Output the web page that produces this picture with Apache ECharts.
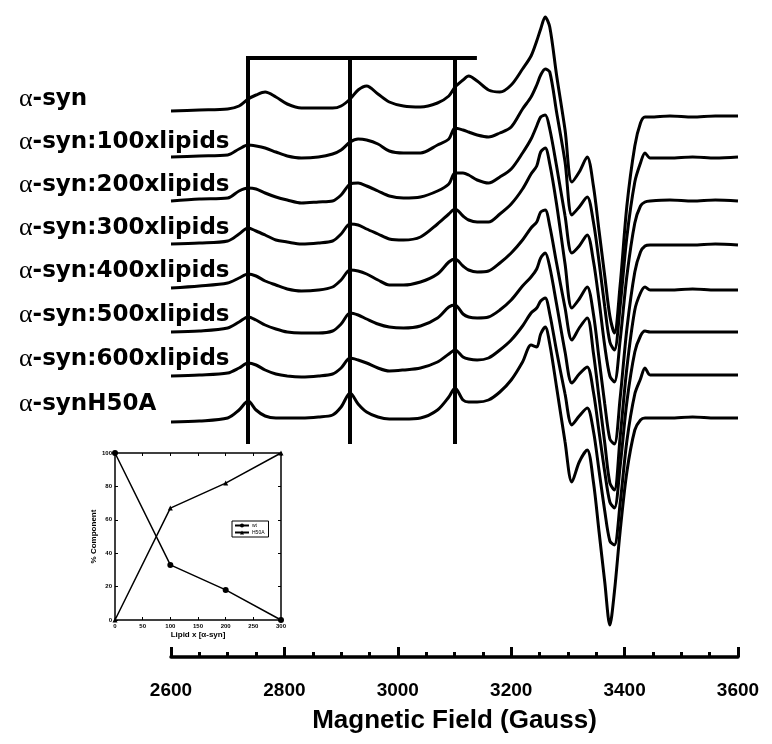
<!DOCTYPE html>
<html><head><meta charset="utf-8">
<script src="https://cdn.jsdelivr.net/npm/echarts@6/dist/echarts.min.js"></script>
<style>html,body{margin:0;padding:0;background:#fff}#c{width:772px;height:744px}</style>
</head><body><div id="c"></div>
<script>
// Magnetic field sampling points (Gauss)
const fieldGrid = [2600,2650,2700,2720,2736,2750,2766,2785,2805,2830,2860,2885,2900,2916,2930,2945,2965,2985,3010,3040,3070,3090,3101,3115,3125,3140,3160,3180,3200,3220,3235,3245,3252,3260,3268,3280,3295,3307,3320,3334,3345,3355,3365,3374,3382,3392,3404,3418,3428,3436,3445,3480,3520,3560,3600];
// Spectra (arbitrary units, relative to each trace's own baseline)
const specSyn    = [0,1,2,5,12,16,19,14,7,3, 3,3,5,12,21,25,17,9,5,4, 8,15,24,31,35,30,21,19,26,42, 55,70,82,94,84,36,-19,-71,-61,-46, -75,-120,-165,-205,-222,-175,-95,-35,-12,-6, -6,-5,-6,-5,-5];
const spec100    = [0,1,2,8,12,11,9,5,1,-1, 0,3,7,15,18,17,13,6,4,4, 12,18,29,27,25,22,20,24,30,48, 60,72,82,88,85,45,-5,-58,-50,-40, -65,-105,-150,-185,-193,-150,-80,-25,-6,4, -1,-1,0,-1,0];
const spec200    = [0,2,3,10,13,12,8,4,1,-2, -1,0,6,17,18,15,10,5,3,4, 10,17,28,28,26,21,18,24,32,48, 62,75,84,86,72,35,-15,-52,-45,-34, -60,-100,-145,-175,-181,-140,-75,-22,-5,-1, 0,1,0,1,0];
const spec300    = [0,1,3,10,16,13,9,4,2,0, 1,3,10,20,19,15,10,5,4,7, 20,30,35,28,24,22,22,30,40,55, 70,78,92,96,80,40,-20,-64,-55,-43, -70,-115,-160,-195,-200,-155,-85,-28,-8,-2, -1,-1,-1,0,-1];
const spec400    = [0,2,5,10,14,12,7,3,-1,-3, -2,1,8,18,17,14,8,3,3,6, 14,26,29,22,18,16,17,25,35,48, 60,66,76,78,62,25,-20,-52,-40,-30, -65,-110,-155,-195,-202,-150,-80,-22,-5,1, -2,-2,-1,-2,-2];
const spec500    = [0,1,4,10,15,12,7,3,0,-1, -1,1,8,19,17,13,8,5,4,6, 14,25,27,18,15,14,15,22,32,46, 55,63,74,79,65,28,-20,-51,-42,-35, -60,-100,-140,-170,-176,-135,-70,-20,-4,1, 0,0,0,0,0];
const spec600    = [0,1,3,8,13,11,6,2,0,-1, 0,2,8,18,16,13,8,5,6,8, 14,22,26,19,17,16,18,26,36,50, 63,68,75,78,62,25,-18,-49,-40,-32, -55,-95,-135,-165,-169,-128,-65,-18,-3,8, 1,1,1,1,1];
const specH50A   = [0,1,4,12,21,12,6,4,4,4, 5,7,15,29,18,10,5,3,3,4, 12,25,34,22,20,20,22,30,42,60, 77,75,88,95,78,35,-20,-60,-40,-28, -60,-110,-160,-203,-170,-110,-50,-8,2,4, 4,4,5,4,4];
const spectra = [specSyn, spec100, spec200, spec300, spec400, spec500, spec600, specH50A];
// vertical stacking offsets of each trace
const baselineOffsets = [546, 500, 456, 413, 369, 325, 281, 235];
const sampleLabels = ['α-syn','α-syn:100xlipids','α-syn:200xlipids','α-syn:300xlipids','α-syn:400xlipids','α-syn:500xlipids','α-syn:600xlipids','α-synH50A'];
// stick diagram marking hyperfine lines
const stickFields = [2736, 2916, 3101];
const stickRange = [215, 599];
const barEndField = 3136;
// inset data
const lipidRatio = [0, 100, 200, 300];
const wtPercent = [100, 33, 18, 0];
const h50aPercent = [0, 67, 82, 100];

const labelY = [99, 142, 185, 228, 271, 315, 359, 404];

const chart = echarts.init(document.getElementById('c'), null, {renderer: 'canvas'});

const specSeries = spectra.map((s, i) => ({
  type: 'line', xAxisIndex: 0, yAxisIndex: 0, silent: true,
  data: fieldGrid.map((f, j) => [f, s[j] + baselineOffsets[i]]),
  showSymbol: false, smooth: 0.3,
  lineStyle: {color: '#000', width: 3}
}));
specSeries[0].markLine = {
  symbol: 'none', silent: true, animation: false,
  label: {show: false},
  lineStyle: {color: '#000', width: 4, type: 'solid', cap: 'square'},
  data: stickFields.map(f => [{coord: [f, stickRange[0]]}, {coord: [f, stickRange[1]]}])
    .concat([[{coord: [stickFields[0], stickRange[1]]}, {coord: [barEndField, stickRange[1]]}]])
};

const insetTxt = {fontFamily: 'Liberation Sans', fontWeight: 'bold', color: '#000'};

const option = {
  animation: false,
  backgroundColor: '#fff',
  grid: [
    {left: 171, right: 34, top: 7, bottom: 87},
    {left: 115, top: 453, width: 166, height: 167}
  ],
  xAxis: [
    {gridIndex: 0, type: 'value', min: 2600, max: 3600, interval: 200,
     axisLine: {onZero: false, lineStyle: {color: '#000', width: 3.5}},
     axisTick: {inside: true, length: 10, lineStyle: {color: '#000', width: 3}},
     minorTick: {show: true, splitNumber: 4, length: 5, lineStyle: {color: '#000', width: 3}},
     splitLine: {show: false}, minorSplitLine: {show: false},
     axisLabel: {fontSize: 19, fontWeight: 'bold', fontFamily: 'Liberation Sans', color: '#000', margin: 24, showMinLabel: true, showMaxLabel: true, formatter: v => String(v)},
     name: 'Magnetic Field (Gauss)', nameLocation: 'middle', nameGap: 51,
     nameTextStyle: {fontSize: 26, fontWeight: 'bold', fontFamily: 'Liberation Sans', color: '#000'}},
    {gridIndex: 1, type: 'value', min: 0, max: 300, interval: 50, position: 'bottom',
     axisLine: {onZero: false, lineStyle: {color: '#000', width: 1.5}},
     axisTick: {inside: true, length: 3, lineStyle: {color: '#000', width: 1}},
     splitLine: {show: false},
     axisLabel: Object.assign({fontSize: 6, margin: 3, showMinLabel: true, showMaxLabel: true}, insetTxt),
     name: 'Lipid x [α-syn]', nameLocation: 'middle', nameGap: 11,
     nameTextStyle: Object.assign({fontSize: 8}, insetTxt)},
    {gridIndex: 1, type: 'value', min: 0, max: 300, interval: 50, position: 'top',
     axisLine: {onZero: false, lineStyle: {color: '#000', width: 1.5}},
     axisTick: {inside: true, length: 3, lineStyle: {color: '#000', width: 1}},
     splitLine: {show: false}, axisLabel: {show: false}}
  ],
  yAxis: [
    {gridIndex: 0, type: 'value', min: 0, max: 650, show: false},
    {gridIndex: 1, type: 'value', min: 0, max: 100, interval: 20, position: 'left',
     axisLine: {show: true, onZero: false, lineStyle: {color: '#000', width: 1.5}},
     axisTick: {show: true, inside: true, length: 3, lineStyle: {color: '#000', width: 1}},
     splitLine: {show: false},
     axisLabel: Object.assign({fontSize: 6, margin: 3, showMinLabel: true, showMaxLabel: true}, insetTxt),
     name: '% Component', nameLocation: 'middle', nameGap: 16, nameRotate: 90,
     nameTextStyle: Object.assign({fontSize: 8}, insetTxt)},
    {gridIndex: 1, type: 'value', min: 0, max: 100, interval: 20, position: 'right',
     axisLine: {show: true, onZero: false, lineStyle: {color: '#000', width: 1.5}},
     axisTick: {show: true, inside: true, length: 3, lineStyle: {color: '#000', width: 1}},
     splitLine: {show: false}, axisLabel: {show: false}}
  ],
  legend: {
    data: ['wt', 'H50A'], orient: 'vertical', left: 232, top: 521,
    itemWidth: 14, itemHeight: 5, itemGap: 2,
    padding: [2, 4, 2, 2], borderColor: '#000', borderWidth: 1,
    textStyle: {fontSize: 5, fontFamily: 'Liberation Sans', color: '#000', padding: [0,0,0,-2]}
  },
  series: specSeries.concat([
    {name: 'wt', type: 'line', xAxisIndex: 1, yAxisIndex: 1,
     data: lipidRatio.map((x, i) => [x, wtPercent[i]]),
     symbol: 'circle', symbolSize: 6, itemStyle: {color: '#000'},
     lineStyle: {color: '#000', width: 1.5}},
    {name: 'H50A', type: 'line', xAxisIndex: 1, yAxisIndex: 1,
     data: lipidRatio.map((x, i) => [x, h50aPercent[i]]),
     symbol: 'triangle', symbolSize: 5, itemStyle: {color: '#000'},
     lineStyle: {color: '#000', width: 1.5}}
  ]),
  graphic: sampleLabels.map((t, i) => ({
    type: 'text', x: 19, y: labelY[i], silent: true,
    style: {
      text: '{a|' + t.charAt(0) + '}{b|' + t.slice(1) + '}',
      verticalAlign: 'middle', align: 'left',
      rich: {
        a: {fontFamily: 'Liberation Serif', fontSize: 26, fill: '#000'},
        b: {fontFamily: 'DejaVu Sans', fontWeight: 'bold', fontSize: 23, fill: '#000'}
      }
    }
  }))
};
chart.setOption(option);
</script></body></html>
